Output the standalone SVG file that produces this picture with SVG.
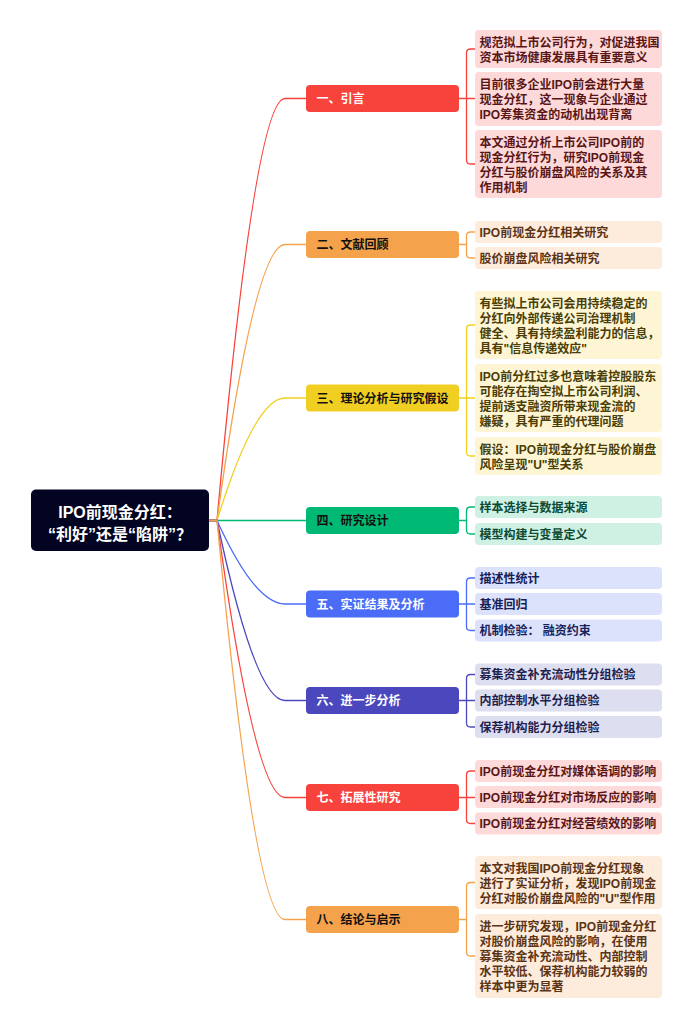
<svg xmlns="http://www.w3.org/2000/svg" width="693" height="1029" viewBox="0 0 693 1029">
<style>
text{font-family:"Liberation Sans","Noto Sans CJK SC",sans-serif;font-weight:bold}
.root{font-size:16px;fill:#ffffff}
.br{font-size:12px}
.lf{font-size:12px}
.c{fill:none;stroke-width:1.3}
.red{stroke:#f8433c}.org{stroke:#f5a24c}.yel{stroke:#f1cf22}.grn{stroke:#00b975}.blu{stroke:#4a6cf7}.ind{stroke:#4b48be}
.bred{fill:#f8433c}.borg{fill:#f5a24c}.byel{fill:#f1cf22}.bgrn{fill:#00b975}.bblu{fill:#4a6cf7}.bind{fill:#4b48be}
.lred{fill:#fdd9d9}.lorg{fill:#fdebdc}.lyel{fill:#fdf5d4}.lgrn{fill:#cef1e3}.lblu{fill:#dce2fc}.lind{fill:#dedef1}
.tred{fill:#5a1616}.torg{fill:#5a3414}.tyel{fill:#4a3d06}.tgrn{fill:#0c4a33}.tblu{fill:#16215a}.tind{fill:#1f1f4e}
.tw{fill:#ffffff}.tk{fill:#111111}
</style>
<rect width="693" height="1029" fill="#ffffff"/>
<g id="connectors">
<path class="c red" d="M209,520.5 H217 Q255,98.5 285,98.5 H306"/>
<path class="c org" d="M209,520.5 H217 Q255,244.5 285,244.5 H306"/>
<path class="c yel" d="M209,520.5 H217 Q255,398 285,398 H306"/>
<path class="c grn" d="M209,520.5 H306"/>
<path class="c blu" d="M209,520.5 H217 Q255,604 285,604 H306"/>
<path class="c ind" d="M209,520.5 H217 Q255,700.5 285,700.5 H306"/>
<path class="c red" d="M209,520.5 H217 Q255,797.5 285,797.5 H306"/>
<path class="c org" d="M209,520.5 H217 Q255,919.5 285,919.5 H306"/>
<path class="c red" d="M459,98.5 H475 M466.5,98.5 V53 Q466.5,49 470.5,49 H475 M466.5,98.5 V160 Q466.5,164 470.5,164 H475"/>
<path class="c org" d="M459,244.5 H466.5 M466.5,244.5 V236 Q466.5,232 470.5,232 H475 M466.5,244.5 V254 Q466.5,258 470.5,258 H475"/>
<path class="c yel" d="M459,398 H475 M466.5,398 V329 Q466.5,325 470.5,325 H475 M466.5,398 V452 Q466.5,456 470.5,456 H475"/>
<path class="c grn" d="M459,520.5 H466.5 M466.5,520.5 V511 Q466.5,507 470.5,507 H475 M466.5,520.5 V530 Q466.5,534 470.5,534 H475"/>
<path class="c blu" d="M459,604 H475 M466.5,604 V582 Q466.5,578 470.5,578 H475 M466.5,604 V626.5 Q466.5,630.5 470.5,630.5 H475"/>
<path class="c ind" d="M459,700.5 H475 M466.5,700.5 V678.5 Q466.5,674.5 470.5,674.5 H475 M466.5,700.5 V723 Q466.5,727 470.5,727 H475"/>
<path class="c red" d="M459,797.5 H475 M466.5,797.5 V775 Q466.5,771 470.5,771 H475 M466.5,797.5 V819.5 Q466.5,823.5 470.5,823.5 H475"/>
<path class="c org" d="M459,919.5 H466.5 M466.5,919.5 V886.5 Q466.5,882.5 470.5,882.5 H475 M466.5,919.5 V952 Q466.5,956 470.5,956 H475"/>
</g>
<g id="root">
<rect x="31" y="489.5" width="178" height="61.5" rx="5" fill="#030322"/>
<text class="root" x="120" y="517.5" text-anchor="middle">IPO前现金分红：</text>
<text class="root" x="120" y="539.5" text-anchor="middle">“利好”还是“陷阱”？</text>
</g>
<g id="b1"><rect class="bred" x="306" y="85" width="153" height="27" rx="4"/><text class="br tw" x="316.5" y="103">一、引言</text></g>
<g id="b2"><rect class="borg" x="306" y="231" width="153" height="27" rx="4"/><text class="br tk" x="316.5" y="249">二、文献回顾</text></g>
<g id="b3"><rect class="byel" x="306" y="384.5" width="153" height="27" rx="4"/><text class="br tk" x="316.5" y="402.5">三、理论分析与研究假设</text></g>
<g id="b4"><rect class="bgrn" x="306" y="507" width="153" height="27" rx="4"/><text class="br tk" x="316.5" y="525">四、研究设计</text></g>
<g id="b5"><rect class="bblu" x="306" y="590.5" width="153" height="27" rx="4"/><text class="br tw" x="316.5" y="608.5">五、实证结果及分析</text></g>
<g id="b6"><rect class="bind" x="306" y="687" width="153" height="27" rx="4"/><text class="br tw" x="316.5" y="705">六、进一步分析</text></g>
<g id="b7"><rect class="bred" x="306" y="784" width="153" height="27" rx="4"/><text class="br tw" x="316.5" y="802">七、拓展性研究</text></g>
<g id="b8"><rect class="borg" x="306" y="906" width="153" height="27" rx="4"/><text class="br tk" x="316.5" y="924">八、结论与启示</text></g>
<g id="l1a"><rect class="lred" x="475" y="30" width="187" height="38" rx="4"/><text class="lf tred" x="479.5" y="46.5">规范拟上市公司行为，对促进我国</text><text class="lf tred" x="479.5" y="61.5">资本市场健康发展具有重要意义</text></g>
<g id="l1b"><rect class="lred" x="475" y="72" width="187" height="54" rx="4"/><text class="lf tred" x="479.5" y="89">目前很多企业IPO前会进行大量</text><text class="lf tred" x="479.5" y="104">现金分红，这一现象与企业通过</text><text class="lf tred" x="479.5" y="119">IPO筹集资金的动机出现背离</text></g>
<g id="l1c"><rect class="lred" x="475" y="130" width="187" height="68" rx="4"/><text class="lf tred" x="479.5" y="146.5">本文通过分析上市公司IPO前的</text><text class="lf tred" x="479.5" y="161.5">现金分红行为，研究IPO前现金</text><text class="lf tred" x="479.5" y="176.5">分红与股价崩盘风险的关系及其</text><text class="lf tred" x="479.5" y="191.5">作用机制</text></g>
<g id="l2a"><rect class="lorg" x="475" y="221" width="187" height="22" rx="4"/><text class="lf torg" x="479.5" y="236.5">IPO前现金分红相关研究</text></g>
<g id="l2b"><rect class="lorg" x="475" y="247" width="187" height="22" rx="4"/><text class="lf torg" x="479.5" y="262.5">股价崩盘风险相关研究</text></g>
<g id="l3a"><rect class="lyel" x="475" y="291" width="187" height="68" rx="4"/><text class="lf tyel" x="479.5" y="307.5">有些拟上市公司会用持续稳定的</text><text class="lf tyel" x="479.5" y="322.5">分红向外部传递公司治理机制</text><text class="lf tyel" x="479.5" y="337.5">健全、具有持续盈利能力的信息，</text><text class="lf tyel" x="479.5" y="352.5">具有"信息传递效应"</text></g>
<g id="l3b"><rect class="lyel" x="475" y="364" width="187" height="68" rx="4"/><text class="lf tyel" x="479.5" y="380.5">IPO前分红过多也意味着控股股东</text><text class="lf tyel" x="479.5" y="395.5">可能存在掏空拟上市公司利润、</text><text class="lf tyel" x="479.5" y="410.5">提前透支融资所带来现金流的</text><text class="lf tyel" x="479.5" y="425.5">嫌疑，具有严重的代理问题</text></g>
<g id="l3c"><rect class="lyel" x="475" y="437" width="187" height="38" rx="4"/><text class="lf tyel" x="479.5" y="453.5">假设：IPO前现金分红与股价崩盘</text><text class="lf tyel" x="479.5" y="468.5">风险呈现"U"型关系</text></g>
<g id="l4a"><rect class="lgrn" x="475" y="496" width="187" height="22" rx="4"/><text class="lf tgrn" x="479.5" y="511.5">样本选择与数据来源</text></g>
<g id="l4b"><rect class="lgrn" x="475" y="523" width="187" height="22" rx="4"/><text class="lf tgrn" x="479.5" y="538.5">模型构建与变量定义</text></g>
<g id="l5a"><rect class="lblu" x="475" y="567" width="187" height="22" rx="4"/><text class="lf tblu" x="479.5" y="582.5">描述性统计</text></g>
<g id="l5b"><rect class="lblu" x="475" y="593" width="187" height="22" rx="4"/><text class="lf tblu" x="479.5" y="608.5">基准回归</text></g>
<g id="l5c"><rect class="lblu" x="475" y="619.5" width="187" height="22" rx="4"/><text class="lf tblu" x="479.5" y="635">机制检验： 融资约束</text></g>
<g id="l6a"><rect class="lind" x="475" y="663.5" width="187" height="22" rx="4"/><text class="lf tind" x="479.5" y="679">募集资金补充流动性分组检验</text></g>
<g id="l6b"><rect class="lind" x="475" y="689.5" width="187" height="22" rx="4"/><text class="lf tind" x="479.5" y="705">内部控制水平分组检验</text></g>
<g id="l6c"><rect class="lind" x="475" y="716" width="187" height="22" rx="4"/><text class="lf tind" x="479.5" y="731.5">保荐机构能力分组检验</text></g>
<g id="l7a"><rect class="lred" x="475" y="760" width="187" height="22" rx="4"/><text class="lf tred" x="479.5" y="775.5">IPO前现金分红对媒体语调的影响</text></g>
<g id="l7b"><rect class="lred" x="475" y="786" width="187" height="22" rx="4"/><text class="lf tred" x="479.5" y="801.5">IPO前现金分红对市场反应的影响</text></g>
<g id="l7c"><rect class="lred" x="475" y="812.5" width="187" height="22" rx="4"/><text class="lf tred" x="479.5" y="828">IPO前现金分红对经营绩效的影响</text></g>
<g id="l8a"><rect class="lorg" x="475" y="856" width="187" height="53" rx="4"/><text class="lf torg" x="479.5" y="872.5">本文对我国IPO前现金分红现象</text><text class="lf torg" x="479.5" y="887.5">进行了实证分析，发现IPO前现金</text><text class="lf torg" x="479.5" y="902.5">分红对股价崩盘风险的"U"型作用</text></g>
<g id="l8b"><rect class="lorg" x="475" y="914" width="187" height="84" rx="4"/><text class="lf torg" x="479.5" y="931">进一步研究发现，IPO前现金分红</text><text class="lf torg" x="479.5" y="946">对股价崩盘风险的影响，在使用</text><text class="lf torg" x="479.5" y="961">募集资金补充流动性、内部控制</text><text class="lf torg" x="479.5" y="976">水平较低、保荐机构能力较弱的</text><text class="lf torg" x="479.5" y="991">样本中更为显著</text></g>
</svg>
